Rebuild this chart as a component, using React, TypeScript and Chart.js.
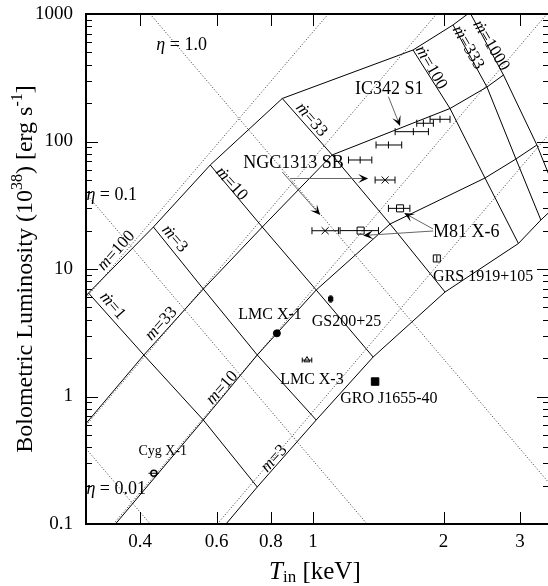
import React, { useEffect, useRef } from "react";
import { Chart, registerables } from "chart.js";

Chart.register(...registerables);

const SERIF = "'Liberation Serif', 'Times New Roman', 'DejaVu Serif', serif";

// ---------------- axes ----------------
const xTickValues = [0.4, 0.6, 0.8, 1, 2, 3];
const xTickLabels = ["0.4", "0.6", "0.8", "1", "2", "3"];
const yTickValues = [0.1, 1, 10, 100, 1000];
const yTickLabels = ["0.1", "1", "10", "100", "1000"];

// ---------------- slim-disk grid (solid) ----------------
// vertices along each mass line, ordered: lower extension, ṁ = 1, 3, 10, 33, 100, 333, 1000
const mdotLabels = ["1", "3", "10", "33", "100", "333", "1000"];
const massLabels = ["100", "33", "10", "3"];
const mass100T = [0.1697, 0.304, 0.429, 0.58, 0.85, 1.701, 2.103, 2.3];
const mass100L = [0.62, 6.48, 21.35, 65.4, 217.5, 521.9, 819.9, 1030];
const mass33T = [0.2277, 0.4078, 0.5591, 0.7645, 1.1076, 2.07, 2.518, 2.749];
const mass33L = [0.202, 2.116, 6.968, 21.35, 78.4, 181.5, 267.6, 332.3];
const mass10T = [0.3121, 0.5591, 0.7444, 1.0177, 1.506, 2.492, 2.937, 3.282];
const mass10L = [0.0625, 0.654, 2.116, 6.844, 22.54, 51.7, 72.9, 93.9];
const mass3T = [0.4155, 0.7444, 1.0177, 1.3765, 2.016, 2.976, 3.352, 3.709];
const mass3L = [0.01865, 0.1951, 0.654, 2.04, 6.6, 15.85, 24.23, 33.5];

// ---------------- standard-disk mass lines (dotted) ----------------
const std100T = [0.3, 1.085];
const std100L = [5.93, 1000];
const std33T = [0.3, 1.927];
const std33L = [0.594, 1000];
const std10T = [0.347, 3.461];
const std10L = [0.1, 1000];
const std3T = [0.6022, 3.479];
const std3L = [0.1, 111.6];

// ---------------- constant-η lines (dotted) ----------------
const eta1T = [0.4216, 3.5];
const eta1L = [1000, 0.21];
const eta01T = [0.3, 1.333];
const eta01L = [39.0, 0.1];
const eta001T = [0.3, 0.4217];
const eta001L = [0.39, 0.1];

// ---------------- observed sources ----------------
const ic342T = [1.285, 1.493, 1.704, 1.797, 1.963];
const ic342L = [71.6, 93.9, 119.4, 139, 149.4];
const ic342Tlo = [1.208, 1.398, 1.547, 1.735, 1.862];
const ic342Thi = [1.367, 1.602, 1.846, 1.895, 2.07];

const ngc1313T = [1.067, 1.467];
const ngc1313L = [19.96, 49.9];
const ngc1313Tlo = [0.995, 1.391];
const ngc1313Thi = [1.145, 1.546];

const m81T = [1.288, 1.588];
const m81L = [20.0, 29.9];
const m81Tlo = [1.155, 1.493];
const m81Thi = [1.416, 1.673];

const lmcX1T = [0.826];
const lmcX1L = [3.13];
const lmcX3T = [0.969];
const lmcX3L = [1.93];
const lmcX3Tlo = [0.945];
const lmcX3Thi = [0.994];
const groT = [1.391];
const groL = [1.31];
const gsT = [1.099];
const gsL = [5.82];
const gsLlo = [5.5];
const gsLhi = [6.15];
const grsT = [1.93];
const grsL = [12.1];
const grsLlo = [11.4];
const grsLhi = [12.8];
const cygT = [0.43];
const cygL = [0.25];
const cygTlo = [0.418];
const cygThi = [0.442];

// ---------------- helpers ----------------
const pts = (T: number[], L: number[]) => T.map((t, i) => ({ x: t, y: L[i] }));
const massT = [mass100T, mass33T, mass10T, mass3T];
const massL = [mass100L, mass33L, mass10L, mass3L];

type Seg = { t: string; i?: boolean; sup?: boolean; sub?: boolean };

function drawRich(ctx: CanvasRenderingContext2D, segs: Seg[], x: number, y: number, size: number, align: "left" | "center") {
  const fontFor = (s: Seg) => `${s.i ? "italic " : ""}${s.sup || s.sub ? Math.round(size * 0.68) : size}px ${SERIF}`;
  let total = 0;
  for (const s of segs) {
    ctx.font = fontFor(s);
    total += ctx.measureText(s.t).width;
  }
  let cx = align === "center" ? x - total / 2 : x;
  ctx.textAlign = "left";
  ctx.textBaseline = "alphabetic";
  for (const s of segs) {
    ctx.font = fontFor(s);
    const dy = s.sup ? -size * 0.4 : s.sub ? size * 0.12 : 0;
    ctx.fillText(s.t, cx, y + dy);
    cx += ctx.measureText(s.t).width;
  }
}

// annotation placement (data coordinates: T keV, L 1e38)
const sourceLabels = [
  { text: "IC342 S1", T: 1.251, L: 260.4, size: 18 },
  { text: "NGC1313 SB", T: 0.691, L: 69.1, size: 18 },
  { text: "M81 X-6", T: 1.892, L: 19.69, size: 18 },
  { text: "GRS 1919+105", T: 1.892, L: 8.81, size: 16 },
  { text: "GS200+25", T: 0.9937, L: 3.91, size: 16 },
  { text: "LMC X-1", T: 0.673, L: 4.437, size: 16 },
  { text: "LMC X-3", T: 0.8404, L: 1.384, size: 16 },
  { text: "GRO J1655-40", T: 1.1557, L: 0.982, size: 16 },
  { text: "Cyg X-1", T: 0.3962, L: 0.3805, size: 14 },
];

const etaLabels = [
  { v: "1.0", T: 0.4358, L: 581.8 },
  { v: "0.1", T: 0.3007, L: 38.75 },
  { v: "0.01", T: 0.3007, L: 0.1916 },
];

const mdotLabelPos = [
  { T: 0.347, L: 5.22, angle: 49 },
  { T: 0.4819, L: 17.51, angle: 49 },
  { T: 0.652, L: 47.26, angle: 48 },
  { T: 0.9963, L: 150.1, angle: 49 },
  { T: 1.881, L: 384, angle: 60 },
  { T: 2.289, L: 551, angle: 60 },
  { T: 2.586, L: 571, angle: 59 },
];
const massLabelPos = [
  { T: 0.3507, L: 14.09, angle: -48 },
  { T: 0.4452, L: 3.771, angle: -48 },
  { T: 0.6151, L: 1.187, angle: -48 },
  { T: 0.8103, L: 0.3293, angle: -48 },
];

const arrows = [
  { from: [1.493, 224.6], to: [1.588, 132.3] },
  { from: [0.8867, 51.27], to: [1.3405, 51.27] },
  { from: [0.85, 57.65], to: [1.0394, 26.51] },
  { from: [1.892, 19.86], to: [1.306, 18.31] },
  { from: [1.892, 20.59], to: [1.623, 27.5] },
];

const xErrorSets = [
  { T: ic342T, L: ic342L, lo: ic342Tlo, hi: ic342Thi, cap: 3.5 },
  { T: ngc1313T, L: ngc1313L, lo: ngc1313Tlo, hi: ngc1313Thi, cap: 3.5 },
  { T: m81T, L: m81L, lo: m81Tlo, hi: m81Thi, cap: 3.5 },
  { T: lmcX3T, L: lmcX3L, lo: lmcX3Tlo, hi: lmcX3Thi, cap: 2.5 },
  { T: cygT, L: cygL, lo: cygTlo, hi: cygThi, cap: 0 },
];
const yErrorSets = [
  { T: gsT, lo: gsLlo, hi: gsLhi, cap: 1.5 },
  { T: grsT, lo: grsLlo, hi: grsLhi, cap: 0 },
];

const overlayPlugin = {
  id: "overlay",
  afterDatasetsDraw(chart: any) {
    const { ctx, scales } = chart;
    const X = (v: number) => scales.x.getPixelForValue(v);
    const Y = (v: number) => scales.y.getPixelForValue(v);
    ctx.save();
    ctx.strokeStyle = "#000";
    ctx.lineWidth = 1;
    for (const s of xErrorSets) {
      s.T.forEach((_: number, i: number) => {
        const y = Y(s.L[i]);
        const x1 = X(s.lo[i]);
        const x2 = X(s.hi[i]);
        ctx.beginPath();
        ctx.moveTo(x1, y);
        ctx.lineTo(x2, y);
        if (s.cap > 0) {
          ctx.moveTo(x1, y - s.cap);
          ctx.lineTo(x1, y + s.cap);
          ctx.moveTo(x2, y - s.cap);
          ctx.lineTo(x2, y + s.cap);
        }
        ctx.stroke();
      });
    }
    for (const s of yErrorSets) {
      s.T.forEach((t: number, i: number) => {
        const x = X(t);
        const y1 = Y(s.lo[i]);
        const y2 = Y(s.hi[i]);
        ctx.beginPath();
        ctx.moveTo(x, y1);
        ctx.lineTo(x, y2);
        if (s.cap > 0) {
          ctx.moveTo(x - s.cap, y1);
          ctx.lineTo(x + s.cap, y1);
          ctx.moveTo(x - s.cap, y2);
          ctx.lineTo(x + s.cap, y2);
        }
        ctx.stroke();
      });
    }
    ctx.restore();
  },
  afterDraw(chart: any) {
    const { ctx, chartArea: a, scales } = chart;
    const X = (v: number) => scales.x.getPixelForValue(v);
    const Y = (v: number) => scales.y.getPixelForValue(v);
    ctx.save();

    // tick marks (inward, all four sides)
    ctx.strokeStyle = "#000";
    ctx.lineWidth = 1;
    ctx.beginPath();
    for (let di = 0; di < yTickValues.length; di++) {
      const d = yTickValues[di];
      const yy = Math.round(Y(d)) + 0.5;
      ctx.moveTo(a.left, yy);
      ctx.lineTo(a.left + 12, yy);
      ctx.moveTo(a.right, yy);
      ctx.lineTo(a.right - 12, yy);
      if (di < yTickValues.length - 1) {
        for (let k = 2; k <= 9; k++) {
          const ym = Math.round(Y(d * k)) + 0.5;
          ctx.moveTo(a.left, ym);
          ctx.lineTo(a.left + 6, ym);
          ctx.moveTo(a.right, ym);
          ctx.lineTo(a.right - 6, ym);
        }
      }
    }
    for (const v of xTickValues) {
      const xx = Math.round(X(v)) + 0.5;
      ctx.moveTo(xx, a.bottom);
      ctx.lineTo(xx, a.bottom - 12);
      ctx.moveTo(xx, a.top);
      ctx.lineTo(xx, a.top + 12);
    }
    ctx.stroke();

    // frame
    ctx.lineWidth = 2;
    ctx.strokeRect(a.left, a.top, a.right - a.left, a.bottom - a.top);

    // arrows
    for (const ar of arrows) {
      const x1 = X(ar.from[0]), y1 = Y(ar.from[1]);
      const x2 = X(ar.to[0]), y2 = Y(ar.to[1]);
      const ang = Math.atan2(y2 - y1, x2 - x1);
      const c = Math.cos(ang), s = Math.sin(ang);
      ctx.strokeStyle = "#666";
      ctx.lineWidth = 1;
      ctx.beginPath();
      ctx.moveTo(x1, y1);
      ctx.lineTo(x2 - 5 * c, y2 - 5 * s);
      ctx.stroke();
      const HL = 10, HW = 4.5;
      ctx.fillStyle = "#000";
      ctx.beginPath();
      ctx.moveTo(x2, y2);
      ctx.lineTo(x2 - HL * c + HW * s, y2 - HL * s - HW * c);
      ctx.lineTo(x2 - 0.55 * HL * c, y2 - 0.55 * HL * s);
      ctx.lineTo(x2 - HL * c - HW * s, y2 - HL * s + HW * c);
      ctx.closePath();
      ctx.fill();
    }

    ctx.fillStyle = "#000";
    // source labels
    for (const l of sourceLabels) {
      drawRich(ctx, [{ t: l.text }], X(l.T), Y(l.L) + 0.33 * l.size, l.size, "left");
    }
    // eta labels
    for (const l of etaLabels) {
      drawRich(ctx, [{ t: "η", i: true }, { t: " = " + l.v }], X(l.T), Y(l.L) + 0.33 * 18, 18, "left");
    }
    // rotated grid labels
    const rot = (segs: Seg[], T: number, L: number, angle: number, size: number) => {
      ctx.save();
      ctx.translate(X(T), Y(L));
      ctx.rotate((angle * Math.PI) / 180);
      drawRich(ctx, segs, 0, 0.33 * size, size, "center");
      ctx.restore();
    };
    mdotLabelPos.forEach((p, k) => rot([{ t: "ṁ", i: true }, { t: "=" + mdotLabels[k] }], p.T, p.L, p.angle, 17));
    massLabelPos.forEach((p, j) => rot([{ t: "m", i: true }, { t: "=" + massLabels[j] }], p.T, p.L, p.angle, 17));

    // axis titles
    drawRich(ctx, [{ t: "T", i: true }, { t: "in", sub: true }, { t: " [keV]" }], X(1) + 2, 579, 25, "center");
    ctx.save();
    ctx.translate(32, (a.top + a.bottom) / 2);
    ctx.rotate(-Math.PI / 2);
    drawRich(
      ctx,
      [
        { t: "Bolometric Luminosity (10" },
        { t: "38", sup: true },
        { t: ") [erg s" },
        { t: "-1", sup: true },
        { t: "]" },
      ],
      0,
      0,
      24,
      "center"
    );
    ctx.restore();

    ctx.restore();
  },
};

export default function App() {
  const ref = useRef<HTMLCanvasElement>(null);
  useEffect(() => {
    const canvas = ref.current;
    if (!canvas) return;

    const solid = { showLine: true, pointRadius: 0, borderColor: "#000", borderWidth: 1, tension: 0, fill: false, order: 2 };
    const dotted = { showLine: true, pointRadius: 0, borderColor: "#333", borderWidth: 1, borderDash: [1, 2], tension: 0, fill: false, order: 3 };
    const marker = { showLine: false, borderColor: "#000", borderWidth: 1, order: 0 };

    const datasets: any[] = [
      ...massT.map((T, j) => ({ ...solid, label: "m=" + massLabels[j], data: pts(T, massL[j]) })),
      ...mdotLabels.map((lab, k) => ({
        ...solid,
        label: "ṁ=" + lab,
        data: massT.map((T, j) => ({ x: T[k + 1], y: massL[j][k + 1] })),
      })),
      { ...dotted, label: "std m=100", data: pts(std100T, std100L) },
      { ...dotted, label: "std m=33", data: pts(std33T, std33L) },
      { ...dotted, label: "std m=10", data: pts(std10T, std10L) },
      { ...dotted, label: "std m=3", data: pts(std3T, std3L) },
      { ...dotted, label: "η=1.0", data: pts(eta1T, eta1L) },
      { ...dotted, label: "η=0.1", data: pts(eta01T, eta01L) },
      { ...dotted, label: "η=0.01", data: pts(eta001T, eta001L) },
      { ...marker, label: "IC342 S1", data: pts(ic342T, ic342L), pointStyle: "line", rotation: 90, pointRadius: 3.5 },
      { ...marker, label: "NGC1313 SB", data: pts(ngc1313T, ngc1313L), pointStyle: "crossRot", pointRadius: 5 },
      { ...marker, label: "M81 X-6", data: pts(m81T, m81L), pointStyle: "rect", pointRadius: 5, backgroundColor: "rgba(0,0,0,0)" },
      { ...marker, label: "LMC X-1", data: pts(lmcX1T, lmcX1L), pointStyle: "circle", pointRadius: 3.5, backgroundColor: "#000" },
      { ...marker, label: "LMC X-3", data: pts(lmcX3T, lmcX3L), pointStyle: "triangle", pointRadius: 3.5, backgroundColor: "rgba(0,0,0,0)" },
      { ...marker, label: "GRO J1655-40", data: pts(groT, groL), pointStyle: "rect", pointRadius: 5.3, backgroundColor: "#000" },
      { ...marker, label: "GS200+25", data: pts(gsT, gsL), pointStyle: "rect", pointRadius: 3, backgroundColor: "#000" },
      { ...marker, label: "GRS 1919+105", data: pts(grsT, grsL), pointStyle: "rect", pointRadius: 5, backgroundColor: "rgba(0,0,0,0)" },
      { ...marker, label: "Cyg X-1", data: pts(cygT, cygL), pointStyle: "circle", pointRadius: 3, borderWidth: 1.5, backgroundColor: "rgba(0,0,0,0)" },
    ];

    const chart = new Chart(canvas, {
      type: "scatter",
      data: { datasets },
      options: {
        animation: false,
        responsive: false,
        devicePixelRatio: 1,
        events: [],
        layout: { padding: { top: 14, right: 11, left: 0, bottom: 0 } },
        plugins: { legend: { display: false }, tooltip: { enabled: false }, title: { display: false } },
        scales: {
          x: {
            type: "logarithmic",
            min: 0.3,
            max: 3.5,
            grid: { display: false, drawTicks: false },
            border: { display: false },
            afterBuildTicks: (scale: any) => {
              scale.ticks = xTickValues.map((v) => ({ value: v }));
            },
            afterFit: (scale: any) => {
              scale.height = 62;
              scale.paddingLeft = 0;
              scale.paddingRight = 0;
              scale.paddingTop = 0;
              scale.paddingBottom = 0;
            },
            ticks: {
              autoSkip: false,
              maxRotation: 0,
              padding: 7,
              color: "#000",
              font: { family: SERIF, size: 19 },
              callback: (v: any) => {
                const i = xTickValues.indexOf(Number(v));
                return i >= 0 ? xTickLabels[i] : "";
              },
            },
          },
          y: {
            type: "logarithmic",
            min: 0.1,
            max: 1000,
            grid: { display: false, drawTicks: false },
            border: { display: false },
            afterBuildTicks: (scale: any) => {
              scale.ticks = yTickValues.map((v) => ({ value: v }));
            },
            afterFit: (scale: any) => {
              scale.width = 86;
              scale.paddingTop = 0;
              scale.paddingBottom = 0;
              scale.paddingLeft = 0;
              scale.paddingRight = 0;
            },
            ticks: {
              autoSkip: false,
              padding: 13,
              color: "#000",
              font: { family: SERIF, size: 19 },
              callback: (v: any) => {
                const i = yTickValues.indexOf(Number(v));
                return i >= 0 ? yTickLabels[i] : "";
              },
            },
          },
        },
      } as any,
      plugins: [overlayPlugin as any],
    });
    return () => chart.destroy();
  }, []);

  return (
    <div style={{ position: "fixed", left: 0, top: 0, width: 548, height: 586, overflow: "hidden", background: "#fff" }}>
      <canvas ref={ref} width={560} height={586} style={{ display: "block" }} />
    </div>
  );
}
